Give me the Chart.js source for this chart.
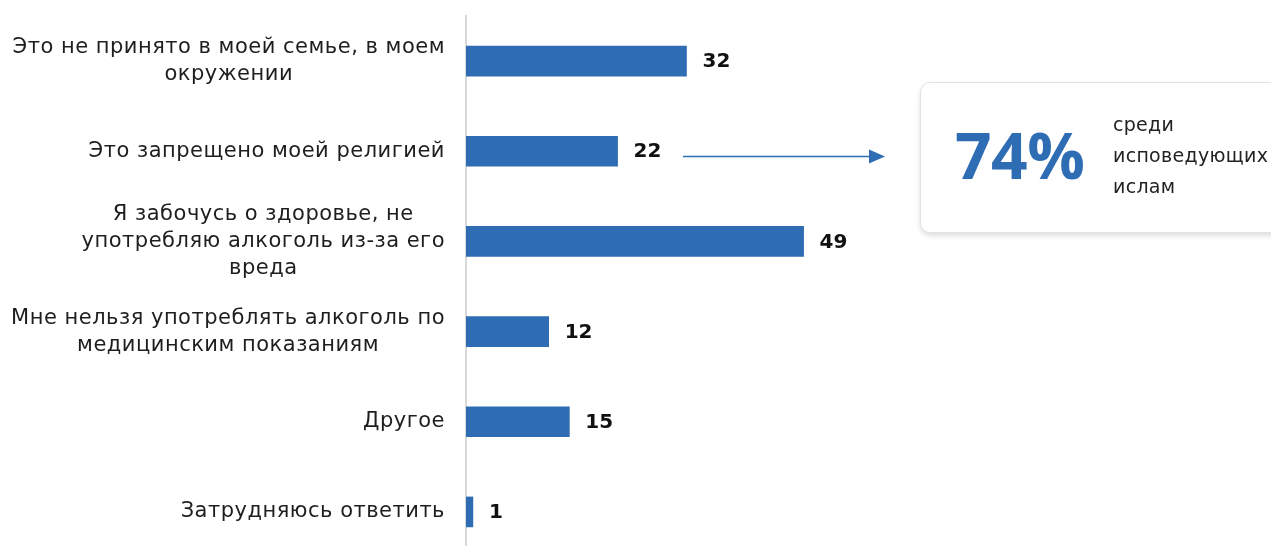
<!DOCTYPE html>
<html>
<head>
<meta charset="utf-8">
<script src="https://cdn.jsdelivr.net/npm/chart.js@4"></script>
<style>
  html, body { margin: 0; padding: 0; background: #fff; overflow: hidden; width: 1271px; height: 546px; }
  #wrap { position: absolute; left: 0; top: 0; width: 1271px; height: 560px; }
  #box { position: absolute; left: 920px; top: 82px; width: 380px; height: 149px; border: 1px solid #e2e2e2;
         border-radius: 10px; background: #fff; box-shadow: 0 3px 5px rgba(0,0,0,0.13); }
  #big { position: absolute; left: 34px; top: 22px; font-family: "Open Sans", sans-serif; font-weight: 700;
         font-size: 64px; line-height: 100px; color: #2E6DB4; letter-spacing: -0.5px; }
  #note { position: absolute; left: 192px; top: 26px; font-family: "DejaVu Sans", sans-serif; font-size: 19px;
          line-height: 31px; color: #222; letter-spacing: 0.3px; }
</style>
</head>
<body>
<div id="wrap"><canvas id="c"></canvas></div>
<div id="box">
  <div id="big">74%</div>
  <div id="note">среди<br>исповедующих<br>ислам</div>
</div>
<script>
const categories = [
  ["Это не принято в моей семье, в моем", "окружении"],
  ["Это запрещено моей религией"],
  ["Я забочусь о здоровье, не", "употребляю алкоголь из-за его", "вреда"],
  ["Мне нельзя употреблять алкоголь по", "медицинским показаниям"],
  ["Другое"],
  ["Затрудняюсь ответить"]
];
const values = [32, 22, 49, 12, 15, 1];

const BLUE = '#2E6DB4';

const labelPlugin = {
  id: 'labels',
  afterDraw(chart) {
    const ctx = chart.ctx;
    const y = chart.scales.y;
    const area = chart.chartArea;
    ctx.save();
    ctx.font = '21px "DejaVu Sans"';
    ctx.letterSpacing = '0.5px';
    ctx.fillStyle = '#1e1e1e';
    ctx.textBaseline = 'middle';
    ctx.textAlign = 'center';
    const lh = 27;
    const right = area.left - 21;
    categories.forEach((lines, i) => {
      const cy = y.getPixelForValue(i);
      const w = Math.max(...lines.map(l => ctx.measureText(l).width));
      const cx = right - w / 2;
      lines.forEach((l, j) => {
        ctx.fillText(l, cx, cy + (j - (lines.length - 1) / 2) * lh);
      });
    });
    ctx.letterSpacing = '0px';
    ctx.font = 'bold 20px "DejaVu Sans"';
    ctx.fillStyle = '#111';
    ctx.textAlign = 'left';
    const meta = chart.getDatasetMeta(0);
    meta.data.forEach((bar, i) => {
      ctx.fillText(String(values[i]), bar.x + 16, bar.y + 1);
    });
    ctx.strokeStyle = BLUE;
    ctx.fillStyle = BLUE;
    ctx.lineWidth = 1.5;
    ctx.beginPath();
    ctx.moveTo(683, 156.5);
    ctx.lineTo(872, 156.5);
    ctx.stroke();
    ctx.beginPath();
    ctx.moveTo(885, 156.5);
    ctx.lineTo(869, 149.5);
    ctx.lineTo(869, 163.5);
    ctx.closePath();
    ctx.fill();
    ctx.restore();
  }
};

new Chart(document.getElementById('c'), {
  type: 'bar',
  data: {
    labels: categories,
    datasets: [{
      data: values,
      backgroundColor: BLUE,
      borderWidth: 0,
      barThickness: 30
    }]
  },
  options: {
    indexAxis: 'y',
    responsive: true,
    maintainAspectRatio: false,
    animation: false,
    layout: { padding: { left: 466, right: 116, top: 16, bottom: 3 } },
    plugins: { legend: { display: false }, tooltip: { enabled: false } },
    scales: {
      x: { min: 0, max: 100, display: false },
      y: {
        ticks: { display: false },
        grid: { display: true, color: 'transparent', drawTicks: false },
        border: { display: true, color: '#d9d9d9', width: 2 },
        afterFit(s) { s.width = 0; }
      }
    }
  },
  plugins: [labelPlugin]
});
</script>
</body>
</html>
